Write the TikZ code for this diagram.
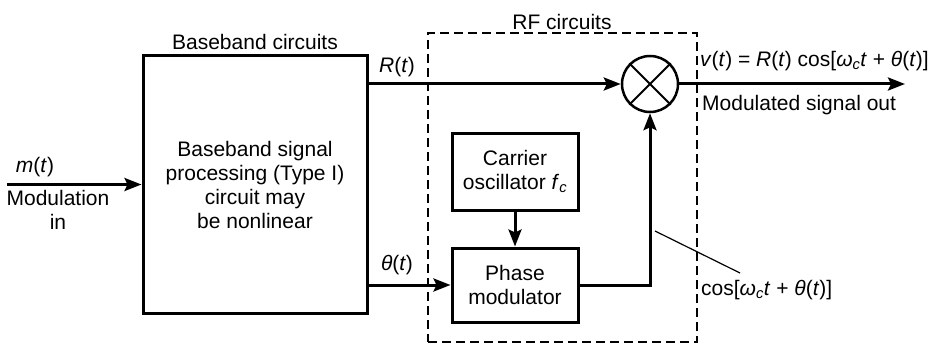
\documentclass[tikz,border=0pt]{standalone}
\usepackage{fontspec}
\setmainfont{Liberation Sans}
\usetikzlibrary{arrows.meta}
\tikzset{
  blk/.style={draw,line width=3pt,inner sep=0pt,align=center},
  sig/.style={line width=3pt,-{Stealth[length=17pt,width=13pt,inset=3pt]}},
  lbl/.style={inner sep=2pt},
}
\newcommand{\var}[1]{\textit{#1}}

\begin{document}
\begin{tikzpicture}[x=1pt,y=-1pt,font=\fontsize{21}{24}\selectfont]
\useasboundingbox (0,0) rectangle (940,345);

\node[blk,minimum width=224pt,minimum height=257pt] (bb) at (255,184.5) {Baseband signal\\processing (Type I)\\circuit may\\be nonlinear};
\node[draw,dash pattern=on 9pt off 5pt,line width=1.6pt,minimum width=269pt,minimum height=309pt] (rf) at (562.5,187.5) {};
\node[blk,minimum width=126pt,minimum height=77pt] (co) at (515,171.5) {Carrier\\oscillator \var{f}\textsubscript{\var{c}}};
\node[blk,minimum width=126pt,minimum height=74pt] (pm) at (515,285) {Phase\\modulator};
\node[draw,circle,line width=2.5pt,minimum size=56pt,inner sep=0pt] (mix) at (650,84) {};
\draw[line width=2pt] (mix.45) -- (mix.225) (mix.135) -- (mix.315);

\node[lbl] (bbl) at (255,42) {Baseband circuits};
\node[lbl] (rfl) at (562,22) {RF circuits};
\node[lbl] (rl) at (397,67) {\var{R}(\var{t})};
\node[lbl] (tl) at (397,265) {\var{θ}(\var{t})};
\node[lbl] (ml) at (35,167) {\var{m}(\var{t})};
\node[lbl,align=center] (mod) at (58,210) {Modulation\\in};
\node[lbl,anchor=west] (vl) at (698,61) {\var{v}(\var{t}) = \var{R}(\var{t}) cos[\var{ω}\textsubscript{\var{c}}\var{t} + \var{θ}(\var{t})]};
\node[lbl,anchor=west] (outl) at (700,105) {Modulated signal out};
\node[lbl,anchor=west] (cosl) at (699,290) {cos[\var{ω}\textsubscript{\var{c}}\var{t} + \var{θ}(\var{t})]};

\coordinate (src) at (7,184.5);
\coordinate (out) at (905,84);
\coordinate (tap) at (655,231);
\coordinate (tip) at (740,273);

\draw[sig] (src) -- (bb.west);
\draw[sig] (mix.west -| bb.east) -- (mix.west);
\draw[sig] (pm.west -| bb.east) -- (pm.west);
\draw[sig] (co) -- (pm);
\draw[sig] (pm.east) -| (mix.south);
\draw[sig] (mix.east) -- (out);
\draw[line width=1.2pt] (tap) -- (tip);
\end{tikzpicture}
\end{document}
